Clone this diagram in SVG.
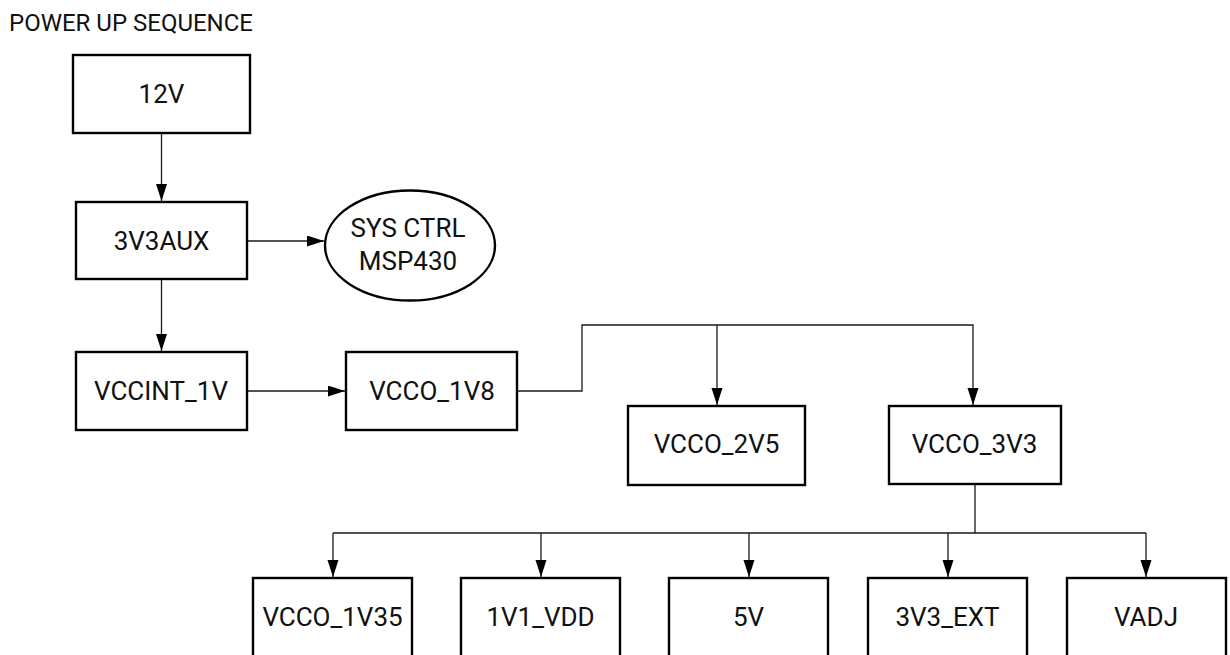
<svg xmlns="http://www.w3.org/2000/svg" width="1230" height="655" viewBox="0 0 1230 655">
  <style>
    .box { fill: #ffffff; stroke: #000000; stroke-width: 2.4; }
    .lbl { font-family: Roboto, "Liberation Sans", sans-serif; font-size: 26px; fill: #111111; text-anchor: middle; }
    .title { font-family: Roboto, "Liberation Sans", sans-serif; font-size: 24px; fill: #111111; }
    .wire { fill: none; stroke: #1a1a1a; stroke-width: 1.3; }
  </style>
  <defs>
    <marker id="arr" markerUnits="userSpaceOnUse" markerWidth="18" markerHeight="12" refX="17" refY="5.5" orient="auto">
      <path d="M0,0 L17,5.5 L0,11 z" fill="#000000"/>
    </marker>
  </defs>
  <rect width="1230" height="655" fill="#ffffff"/>
  <text class="title" x="9" y="31">POWER UP SEQUENCE</text>

  <g id="connectors">
    <path class="wire" d="M161.5 133 V201" marker-end="url(#arr)"/>
    <path class="wire" d="M247 241 H324" marker-end="url(#arr)"/>
    <path class="wire" d="M161.5 279 V351" marker-end="url(#arr)"/>
    <path class="wire" d="M247 391 H345" marker-end="url(#arr)"/>
    <path class="wire" d="M517 391 H582 V325 H973 V405" marker-end="url(#arr)"/>
    <path class="wire" d="M717 325 V405" marker-end="url(#arr)"/>
    <path class="wire" d="M975 484 V533 M333 533 H1146"/>
    <path class="wire" d="M333 533 V577" marker-end="url(#arr)"/>
    <path class="wire" d="M541 533 V577" marker-end="url(#arr)"/>
    <path class="wire" d="M749 533 V577" marker-end="url(#arr)"/>
    <path class="wire" d="M948 533 V577" marker-end="url(#arr)"/>
    <path class="wire" d="M1146 533 V577" marker-end="url(#arr)"/>
  </g>

  <g id="n12v">
    <rect class="box" x="73" y="55" width="177" height="78"/>
    <text class="lbl" x="161.5" y="103">12V</text>
  </g>
  <g id="n3v3aux">
    <rect class="box" x="76" y="202" width="171" height="77"/>
    <text class="lbl" x="161.5" y="249.5">3V3AUX</text>
  </g>
  <g id="nsysctrl">
    <ellipse class="box" cx="410" cy="245.5" rx="85" ry="55"/>
    <text class="lbl" x="408" y="237">SYS CTRL</text>
    <text class="lbl" x="408" y="269.5">MSP430</text>
  </g>
  <g id="nvccint">
    <rect class="box" x="76" y="352" width="171" height="78"/>
    <text class="lbl" x="161" y="400">VCCINT_1V</text>
  </g>
  <g id="nvcco1v8">
    <rect class="box" x="346" y="352" width="171" height="78"/>
    <text class="lbl" x="432" y="400">VCCO_1V8</text>
  </g>
  <g id="nvcco2v5">
    <rect class="box" x="628" y="406" width="177" height="79"/>
    <text class="lbl" x="716.5" y="453">VCCO_2V5</text>
  </g>
  <g id="nvcco3v3">
    <rect class="box" x="889" y="406" width="172" height="78"/>
    <text class="lbl" x="974.5" y="453">VCCO_3V3</text>
  </g>
  <g id="nvcco1v35">
    <rect class="box" x="253" y="578" width="159" height="80"/>
    <text class="lbl" x="332.5" y="626">VCCO_1V35</text>
  </g>
  <g id="n1v1vdd">
    <rect class="box" x="461" y="578" width="159" height="80"/>
    <text class="lbl" x="540.5" y="626">1V1_VDD</text>
  </g>
  <g id="n5v">
    <rect class="box" x="669" y="578" width="159" height="80"/>
    <text class="lbl" x="748.5" y="626">5V</text>
  </g>
  <g id="n3v3ext">
    <rect class="box" x="868" y="578" width="159" height="80"/>
    <text class="lbl" x="947.5" y="626">3V3_EXT</text>
  </g>
  <g id="nvadj">
    <rect class="box" x="1067" y="578" width="159" height="80"/>
    <text class="lbl" x="1146" y="626">VADJ</text>
  </g>
</svg>
